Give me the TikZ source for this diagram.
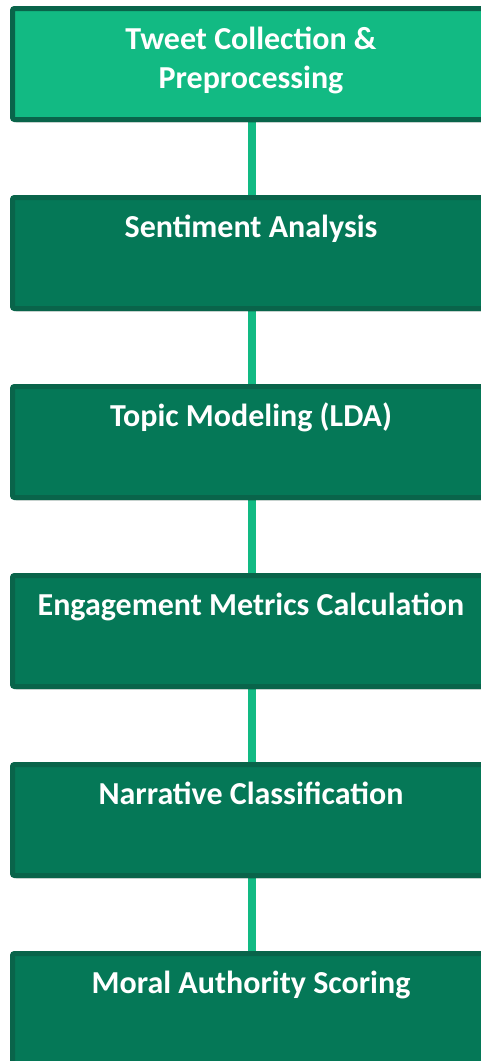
\documentclass[tikz,border=0pt]{standalone}
\usepackage{fontspec}
\setmainfont{Carlito}
\usetikzlibrary{shadows,backgrounds}
\definecolor{firstfill}{HTML}{12BA83}
\definecolor{stagefill}{HTML}{057857}
\definecolor{stageline}{HTML}{09644A}
\definecolor{connline}{HTML}{12BA83}
\begin{document}
\begin{tikzpicture}[x=1pt,y=1pt,
  stage/.style={draw=stageline, line width=5pt, fill=stagefill, rounded corners=2pt,
    minimum width=477pt, minimum height=111pt, inner sep=0pt,
    drop shadow={shadow xshift=2pt, shadow yshift=-3pt, fill=black, opacity=0.18}},
  firststage/.style={stage, fill=firstfill},
  stagetext/.style={text=white, align=center, anchor=base, inner sep=0pt,
    font=\bfseries\fontsize{32}{39}\selectfont},
  conn/.style={draw=connline, line width=8pt}]
\useasboundingbox (0,0) rectangle (481,-1061);
\node[firststage, label={[stagetext, yshift=-82.5pt]north:{Tweet Collection \&\\Preprocessing}}] (s1) at (251,-64) {};
\node[stage, label={[stagetext, yshift=-42.5pt]north:{Sentiment Analysis}}] (s2) at (251,-253) {};
\node[stage, label={[stagetext, yshift=-42.5pt]north:{Topic Modeling (LDA)}}] (s3) at (251,-442) {};
\node[stage, label={[stagetext, yshift=-42.5pt]north:{Engagement Metrics Calculation}}] (s4) at (251,-631) {};
\node[stage, label={[stagetext, yshift=-42.5pt]north:{Narrative Classification}}] (s5) at (251,-820) {};
\node[stage, label={[stagetext, yshift=-42.5pt]north:{Moral Authority Scoring}}] (s6) at (251,-1009) {};
\begin{scope}[on background layer]
\draw[conn] ([xshift=1pt]s1.south) -- ([xshift=1pt]s2.north);
\draw[conn] ([xshift=1pt]s2.south) -- ([xshift=1pt]s3.north);
\draw[conn] ([xshift=1pt]s3.south) -- ([xshift=1pt]s4.north);
\draw[conn] ([xshift=1pt]s4.south) -- ([xshift=1pt]s5.north);
\draw[conn] ([xshift=1pt]s5.south) -- ([xshift=1pt]s6.north);
\end{scope}
\end{tikzpicture}
\end{document}
